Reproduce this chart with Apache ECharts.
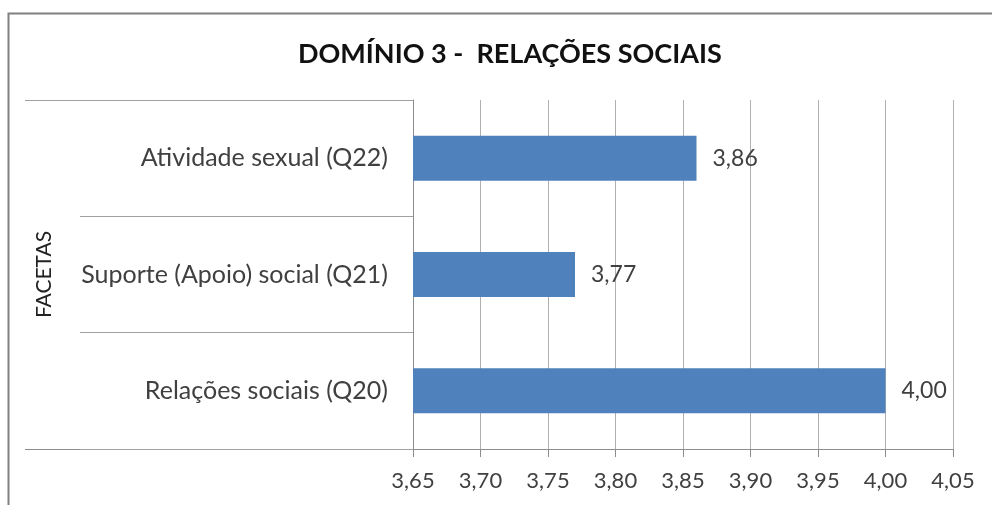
<!DOCTYPE html>
<html>
<head>
<meta charset="utf-8">
<script src="https://cdn.jsdelivr.net/npm/echarts@6/dist/echarts.min.js"></script>
<style>html,body{margin:0;padding:0;background:#fff;}#c{width:992px;height:505px;}</style>
</head>
<body>
<div id="c"></div>
<script>
const titleText = 'DOMÍNIO 3 -  RELAÇÕES SOCIAIS';
const axisName = 'FACETAS';
const categories = ['Relações sociais (Q20)', 'Suporte (Apoio) social (Q21)', 'Atividade sexual (Q22)'];
const values = [4.00, 3.77, 3.86];
const xMin = 3.65, xMax = 4.05, xStep = 0.05;

const fmt = v => v.toFixed(2).replace('.', ',');
const FONT = 'Lato';
const chart = echarts.init(document.getElementById('c'));
chart.setOption({
  backgroundColor: '#fff',
  animation: false,
  title: {
    text: titleText, left: 293, top: 36,
    textStyle: { fontFamily: FONT, fontWeight: 'bold', fontSize: 27, color: '#111' }
  },
  grid: { left: 413, right: 39, top: 100, bottom: 56 },
  xAxis: {
    type: 'value', min: xMin, max: xMax, interval: xStep,
    axisLine: { show: true, lineStyle: { color: '#8c8c8c', width: 1 } },
    axisTick: { show: true, length: 8, lineStyle: { color: '#8c8c8c' } },
    splitLine: { show: true, lineStyle: { color: '#b0b0b0', width: 1 } },
    axisLabel: { formatter: v => fmt(v), fontFamily: FONT, fontSize: 22, color: '#404040', margin: 21 }
  },
  yAxis: {
    type: 'category', data: categories,
    name: axisName, nameLocation: 'middle', nameGap: 358, nameRotate: 90,
    nameTextStyle: { fontFamily: FONT, fontSize: 21, color: '#222' },
    axisLine: { show: true, lineStyle: { color: '#8c8c8c' } },
    axisTick: { show: true, length: 333, interval: 0, lineStyle: { color: '#a0a0a0' } },
    axisLabel: { fontFamily: FONT, fontSize: 25, color: '#404040', margin: 25 }
  },
  series: [{
    type: 'bar', data: values, barWidth: 45,
    itemStyle: { color: '#4f81bd' },
    label: { show: true, position: 'right', distance: 16, formatter: p => fmt(p.value),
      fontFamily: FONT, fontSize: 23, color: '#404040' }
  }]
});
// decorative frame and extended separators
const g = chart.convertToPixel({ xAxisIndex: 0 }, xMin);
chart.setOption({
  graphic: [
    { type: 'rect', shape: { x: 8.5, y: 13.5, width: 1100, height: 700 }, style: { fill: 'none', stroke: '#808080', lineWidth: 2 } },
    { type: 'line', shape: { x1: 25, y1: 100.5, x2: g, y2: 100.5 }, style: { stroke: '#a0a0a0', lineWidth: 1 } },
    { type: 'line', shape: { x1: 25, y1: 449.5, x2: g, y2: 449.5 }, style: { stroke: '#8c8c8c', lineWidth: 1 } }
  ]
});
</script>
</body>
</html>
